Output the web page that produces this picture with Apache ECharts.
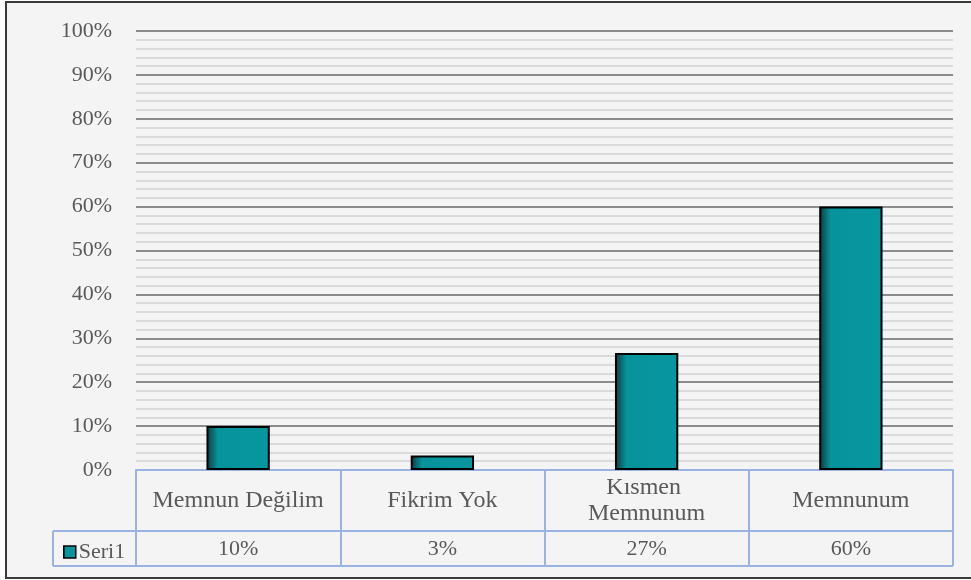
<!DOCTYPE html>
<html>
<head>
<meta charset="utf-8">
<script src="https://cdn.jsdelivr.net/npm/echarts@6/dist/echarts.min.js"></script>
<style>
html,body{margin:0;padding:0;background:#fff;}
#c{width:971px;height:580px;}
</style>
</head>
<body>
<div id="c"></div>
<script>
const categories = ['Memnun Değilim', 'Fikrim Yok', 'Kısmen Memnunum', 'Memnunum'];
const seriesName = 'Seri1';
const values = [10, 3.33, 26.67, 60];
const yTicks = [0, 10, 20, 30, 40, 50, 60, 70, 80, 90, 100];

const FONT = '"Liberation Serif", "Times New Roman", serif';
const TXT = '#595959';
const BLUE = '#9bb3e0';

const chart = echarts.init(document.getElementById('c'));
const barColor = new echarts.graphic.LinearGradient(0, 0, 1, 0, [
  {offset: 0, color: '#0b3a3e'},
  {offset: 0.18, color: '#08939b'},
  {offset: 1, color: '#08979f'}
]);

chart.setOption({
  backgroundColor: '#fff',
  animation: false,
  textStyle: {fontFamily: FONT},
  grid: {left: 136, right: 18, top: 31, bottom: 110, containLabel: false},
  legend: {
    data: [seriesName],
    left: 58, top: 536,
    icon: 'rect', itemWidth: 12, itemHeight: 12, itemGap: 4,
    textStyle: {fontFamily: FONT, fontSize: 22, color: TXT, padding: [0,0,0,-2]},
    itemStyle: {borderColor: '#000', borderWidth: 1.5}
  },
  xAxis: [{
    type: 'category',
    data: categories,
    boundaryGap: true,
    axisLine: {show: true, lineStyle: {color: BLUE, width: 2}},
    axisTick: {show: true, alignWithLabel: false, length: 96, lineStyle: {color: BLUE, width: 2}},
    axisLabel: {
      interval: 0, margin: 31, verticalAlign: 'middle',
      fontFamily: FONT, fontSize: 24, color: TXT, lineHeight: 26,
      width: 185, overflow: 'break', align: 'center'
    },
    splitLine: {show: false}
  }, {
    type: 'category',
    data: categories,
    position: 'bottom',
    boundaryGap: true,
    axisLine: {show: false},
    axisTick: {show: false},
    axisLabel: {
      interval: 0, margin: 79, verticalAlign: 'middle',
      fontFamily: FONT, fontSize: 22, color: TXT,
      formatter: (v, i) => Math.round(values[i]) + '%'
    }
  }],
  yAxis: {
    type: 'value',
    min: yTicks[0], max: yTicks[yTicks.length - 1], interval: 10,
    axisLine: {show: false},
    axisTick: {show: false},
    axisLabel: {margin: 24, fontFamily: FONT, fontSize: 22, color: TXT, formatter: v => v + '%'},
    splitLine: {show: true, lineStyle: {color: '#8c8c8c', width: 2}},
    minorTick: {show: false, splitNumber: 5},
    minorSplitLine: {show: true, lineStyle: {color: '#dadada', width: 2}}
  },
  series: [{
    name: seriesName,
    type: 'bar',
    data: values,
    barWidth: '31%',
    itemStyle: {color: barColor, borderColor: '#000', borderWidth: 2}
  }],
  graphic: [
    {type: 'rect', z: -10, shape: {x: 6, y: 2, width: 980, height: 576},
     style: {fill: '#f4f4f4', stroke: '#3a3a3a', lineWidth: 2}},
    {type: 'line', z: 10, shape: {x1: 53, y1: 531, x2: 953, y2: 531}, style: {stroke: BLUE, lineWidth: 2}},
    {type: 'line', z: 10, shape: {x1: 53, y1: 566, x2: 953, y2: 566}, style: {stroke: BLUE, lineWidth: 2}},
    {type: 'line', z: 10, shape: {x1: 53, y1: 531, x2: 53, y2: 566}, style: {stroke: BLUE, lineWidth: 2}}
  ]
});
</script>
</body>
</html>
